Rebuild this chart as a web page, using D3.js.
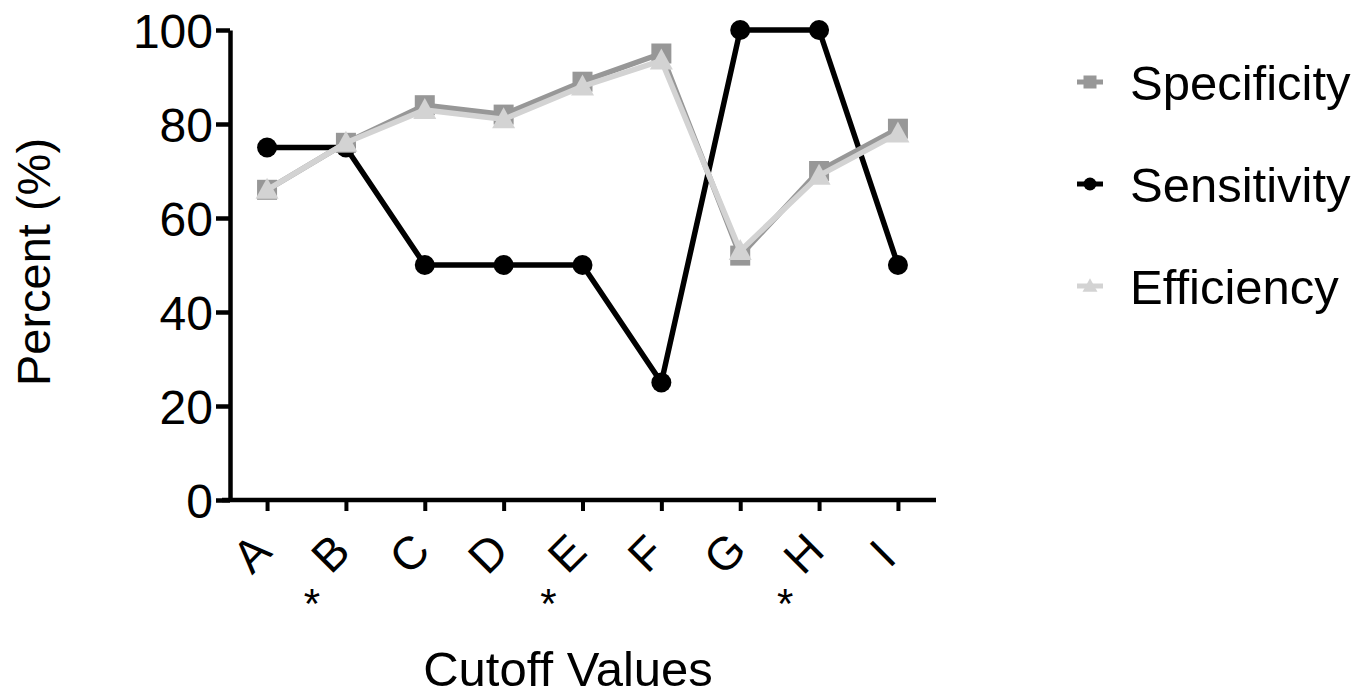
<!DOCTYPE html>
<html>
<head>
<meta charset="utf-8">
<style>
  body { margin: 0; background: #fff; }
  svg { font-family: "Liberation Sans", Arial, sans-serif; }
</style>
</head>
<body>
<svg width="1372" height="698"></svg>
<script src="https://cdn.jsdelivr.net/npm/d3@7"></script>
<script>
// chart data
var categories = ["A", "B", "C", "D", "E", "F", "G", "H", "I"];
var starred = ["B", "E", "H"];
var specificity = [66, 76, 84, 82, 89, 95, 52, 70, 79];
var sensitivity = [75, 75, 50, 50, 50, 25, 100, 100, 50];
var efficiency = [66, 76, 83, 81, 88, 93.5, 53, 69, 78];
var yTicks = [0, 20, 40, 60, 80, 100];

var series = [
  {name: "Sensitivity", values: sensitivity, color: "#000000", shape: "circle"},
  {name: "Specificity", values: specificity, color: "#979797", shape: "square"},
  {name: "Efficiency", values: efficiency, color: "#d3d3d3", shape: "triangle"}
];
var legendOrder = ["Specificity", "Sensitivity", "Efficiency"];

var svg = d3.select("svg");

var x = d3.scalePoint()
    .domain(categories)
    .range([230, 935])
    .padding(0.47);

var y = d3.scaleLinear()
    .domain([0, 100])
    .range([500, 30]);

// axes
var yaxis = svg.append("g")
    .attr("transform", "translate(230,0)")
    .call(d3.axisLeft(y).tickValues(yTicks).tickSize(14).tickPadding(3).tickSizeOuter(0));
yaxis.select(".domain").attr("stroke-width", 4.5);
yaxis.selectAll(".tick line").attr("stroke-width", 4.5);
yaxis.selectAll(".tick text")
    .style("font-size", "48px")
    .attr("dy", "0.36em")
    .attr("fill", "#000");

var xaxis = svg.append("g")
    .attr("transform", "translate(0,500)")
    .call(d3.axisBottom(x).tickSize(11).tickSizeOuter(0).tickFormat(""));
xaxis.select(".domain").attr("d", "M222,0H936").attr("stroke-width", 4.5);
xaxis.selectAll(".tick line").attr("stroke-width", 4);

// rotated category labels
svg.append("g").selectAll("text")
    .data(categories)
    .join("text")
    .attr("transform", function(d) { return "translate(" + (x(d) - 16) + ",553) rotate(-45)"; })
    .attr("text-anchor", "middle")
    .attr("dy", "0.36em")
    .style("font-size", "46px")
    .text(function(d) { return d; });

// significance asterisks
svg.append("g").selectAll("text")
    .data(starred)
    .join("text")
    .attr("x", function(d) { return x(d) - 34; })
    .attr("y", 618)
    .attr("text-anchor", "middle")
    .style("font-size", "42px")
    .text("*");

// axis titles
svg.append("text")
    .attr("transform", "translate(50,262) rotate(-90)")
    .attr("text-anchor", "middle")
    .style("font-size", "47px")
    .text("Percent (%)");

svg.append("text")
    .attr("x", 568)
    .attr("y", 686)
    .attr("text-anchor", "middle")
    .style("font-size", "49px")
    .text("Cutoff Values");

// markers
function drawMarker(sel, shape, color) {
  if (shape === "circle") {
    sel.append("circle").attr("r", 10).attr("fill", color);
  } else if (shape === "square") {
    sel.append("rect").attr("x", -10).attr("y", -10).attr("width", 20).attr("height", 20).attr("fill", color);
  } else {
    sel.append("path").attr("d", "M0,-12L11.5,9L-11.5,9Z").attr("fill", color);
  }
}

var line = d3.line()
    .x(function(d, i) { return x(categories[i]); })
    .y(function(d) { return y(d); });

series.forEach(function(s) {
  var g = svg.append("g");
  g.append("path")
      .attr("fill", "none")
      .attr("stroke", s.color)
      .attr("stroke-width", 5.5)
      .attr("stroke-linejoin", "round")
      .attr("d", line(s.values));
  g.selectAll("g.pt")
      .data(s.values)
      .join("g")
      .attr("class", "pt")
      .attr("transform", function(d, i) { return "translate(" + x(categories[i]) + "," + y(d) + ")"; })
      .each(function() { drawMarker(d3.select(this), s.shape, s.color); });
});

// legend
var legend = svg.append("g");
legendOrder.forEach(function(name, i) {
  var s = series.find(function(d) { return d.name === name; });
  var row = legend.append("g").attr("transform", "translate(1090," + (82 + i * 102) + ")");
  row.append("line")
      .attr("x1", -13).attr("x2", 13)
      .attr("stroke", s.color).attr("stroke-width", 5);
  var m = row.append("g").attr("transform", "scale(0.65)");
  drawMarker(m, s.shape, s.color);
  row.append("text")
      .attr("x", 40)
      .attr("dy", "0.36em")
      .style("font-size", "49px")
      .text(s.name);
});
</script>
</body>
</html>
